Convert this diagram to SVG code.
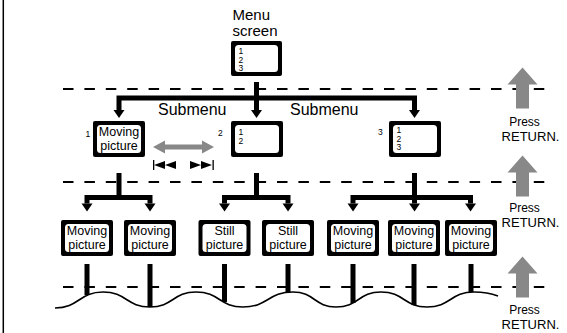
<svg xmlns="http://www.w3.org/2000/svg" xmlns:xlink="http://www.w3.org/1999/xlink" width="567" height="333" viewBox="0 0 567 333">
<style>
text{font-family:"Liberation Sans",Arial,Helvetica,sans-serif;fill:#000}
.t16{font-size:16px}
.mn{font-size:15px}
.t13{font-size:12.5px;text-anchor:middle}
.d{font-size:8.5px}
.rp{font-size:13px;text-anchor:middle}
.pr{font-size:12px;text-anchor:middle}
.frame{fill:#000}
.inner{fill:#fff}
.dash{stroke:#000;stroke-width:2;stroke-dasharray:10.5 10.9;fill:none}
.thick{stroke:#000;stroke-width:5;fill:none;stroke-linejoin:miter}
.wave{stroke:#000;stroke-width:1.6;fill:none}
.gray{fill:#888}
</style>
<defs>
<path id="dh" d="M-5.5,0 L5.5,0 L0,8 Z" fill="#000"/>
<path id="ua" d="M0,0 L15,17 L6.5,17 L6.5,41 L-6.5,41 L-6.5,17 L-15,17 Z" fill="#888"/>
<g id="scr"><rect class="frame" x="0" y="0" width="52" height="36" rx="2"/><rect class="inner" x="4" y="4" width="44" height="28" rx="3.5"/></g>
</defs>
<rect width="567" height="333" fill="#fff"/>
<line x1="3.3" y1="0" x2="3.3" y2="333" stroke="#000" stroke-width="1.5"/>
<g id="dashes">
<line class="dash" x1="63" y1="89" x2="545" y2="89"/>
<line class="dash" x1="63" y1="182" x2="545" y2="182"/>
<line class="dash" x1="63" y1="287" x2="545" y2="287"/>
</g>
<g id="connectors">
<path class="thick" d="M256.5,82 V110"/>
<path class="thick" d="M119,110 V98 H414.5 V110"/>
<use xlink:href="#dh" x="119" y="110"/>
<use xlink:href="#dh" x="256.5" y="110"/>
<use xlink:href="#dh" x="414.5" y="110"/>
<path class="thick" d="M119,173 V197.5"/>
<path class="thick" d="M87,203.5 V197.5 H150 V203.5"/>
<use xlink:href="#dh" x="87" y="203.5"/>
<use xlink:href="#dh" x="150" y="203.5"/>
<path class="thick" d="M256.5,173 V197.5"/>
<path class="thick" d="M224.5,203.5 V197.5 H288 V203.5"/>
<use xlink:href="#dh" x="224.5" y="203.5"/>
<use xlink:href="#dh" x="288" y="203.5"/>
<path class="thick" d="M414.5,173 V203.5"/>
<path class="thick" d="M353,203.5 V197.5 H470.5 V203.5"/>
<use xlink:href="#dh" x="353" y="203.5"/>
<use xlink:href="#dh" x="414.5" y="203.5"/>
<use xlink:href="#dh" x="470.5" y="203.5"/>
<path class="thick" d="M87,264 V295 M150,264 V307 M224.5,264 V302 M288,264 V292 M353,264 V303 M414,264 V305 M471,264 V292"/>
<path class="wave" d="M55,308 C79,308 79,292 103,292 C126.5,292 126.5,307 150,307 C173,307 173,292 196,292 C219.5,292 219.5,307 243,307 C268,307 268,292 293,292 C314.5,292 314.5,307 336,307 C358.5,307 358.5,292 381,292 C404,292 404,307 427,307 C450.5,307 450.5,292 474,292 C486,292 494,294.5 498,296"/>
</g>
<g id="menu">
<text class="mn" x="232.5" y="20">Menu</text>
<text class="mn" x="232.5" y="35.5">screen</text>
<rect class="frame" x="231" y="41" width="51" height="35" rx="2"/><rect class="inner" x="235" y="45" width="43" height="27" rx="3.5"/>
<text class="d" x="238.5" y="54">1</text><text class="d" x="238.5" y="62.5">2</text><text class="d" x="238.5" y="71">3</text>
</g>
<g id="submenu-labels">
<text class="t16" x="158" y="115">Submenu</text>
<text class="t16" x="290" y="115">Submenu</text>
</g>
<g id="sub1">
<text class="d" x="85.5" y="137">1</text>
<use xlink:href="#scr" x="93" y="121"/>
<text class="t13" x="119" y="136">Moving</text><text class="t13" x="119" y="150">picture</text>
</g>
<g id="sub2">
<text class="d" x="218" y="136">2</text>
<use xlink:href="#scr" x="231" y="121"/>
<text class="d" x="238.5" y="135">1</text><text class="d" x="238.5" y="143.5">2</text>
</g>
<g id="sub3">
<text class="d" x="378" y="135">3</text>
<use xlink:href="#scr" x="389" y="121"/>
<text class="d" x="396.5" y="133">1</text><text class="d" x="396.5" y="141.5">2</text><text class="d" x="396.5" y="150">3</text>
</g>
<g id="skip">
<path class="gray" d="M153,147 L165,140.5 L165,144.5 L202,144.5 L202,140.5 L214,147 L202,153.5 L202,149.5 L165,149.5 L165,153.5 Z"/>
<rect x="153" y="160" width="1.3" height="10" fill="#000"/>
<path d="M154,165 L165,161 L165,169 Z M165,165 L176,161 L176,169 Z" fill="#000"/>
<path d="M190,161 L201,165 L190,169 Z M201,161 L212,165 L201,169 Z" fill="#000"/>
<rect x="212.5" y="160" width="1.3" height="10" fill="#000"/>
</g>
<g id="leaf1"><use xlink:href="#scr" x="61" y="220"/><text class="t13" x="87" y="235">Moving</text><text class="t13" x="87" y="249">picture</text></g>
<g id="leaf2"><use xlink:href="#scr" x="124" y="220"/><text class="t13" x="150" y="235">Moving</text><text class="t13" x="150" y="249">picture</text></g>
<g id="leaf3"><use xlink:href="#scr" x="198.5" y="220"/><text class="t13" x="224.5" y="235">Still</text><text class="t13" x="224.5" y="249">picture</text></g>
<g id="leaf4"><use xlink:href="#scr" x="262" y="220"/><text class="t13" x="288" y="235">Still</text><text class="t13" x="288" y="249">picture</text></g>
<g id="leaf5"><use xlink:href="#scr" x="327" y="220"/><text class="t13" x="353" y="235">Moving</text><text class="t13" x="353" y="249">picture</text></g>
<g id="leaf6"><use xlink:href="#scr" x="388" y="220"/><text class="t13" x="414" y="235">Moving</text><text class="t13" x="414" y="249">picture</text></g>
<g id="leaf7"><use xlink:href="#scr" x="445" y="220"/><text class="t13" x="471" y="235">Moving</text><text class="t13" x="471" y="249">picture</text></g>
<g id="return1"><use xlink:href="#ua" x="522.5" y="67.5"/><text class="pr" x="524.5" y="125.5">Press</text><text class="rp" x="530.5" y="140.5">RETURN.</text></g>
<g id="return2"><use xlink:href="#ua" x="522.5" y="155.5"/><text class="pr" x="524.5" y="211.5">Press</text><text class="rp" x="530.5" y="226.5">RETURN.</text></g>
<g id="return3"><use xlink:href="#ua" x="522.5" y="256.5"/><text class="pr" x="524.5" y="314">Press</text><text class="rp" x="530.5" y="329">RETURN.</text></g>
</svg>
